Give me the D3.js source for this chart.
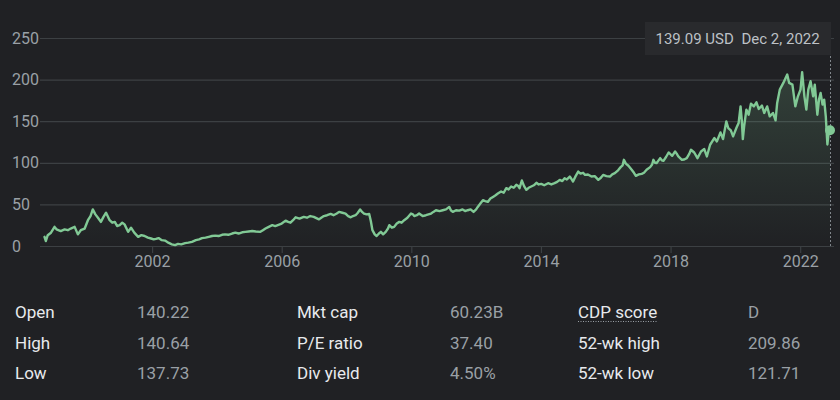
<!DOCTYPE html>
<html>
<head>
<meta charset="utf-8">
<script src="https://cdn.jsdelivr.net/npm/d3@7"></script>
<style>
  html, body { margin: 0; padding: 0; background: #202124; }
  svg { display: block; font-family: Roboto, Arial, sans-serif; }
</style>
</head>
<body>
<svg id="chart" width="840" height="400"></svg>
<script>
// ---------- DATA ----------
const years = [
  1998.68,1998.72,1998.78,1998.88,1998.99,1999.05,1999.18,1999.30,1999.40,1999.49,
  1999.61,1999.71,1999.80,1999.92,2000.02,2000.10,2000.17,2000.25,2000.33,2000.42,
  2000.50,2000.58,2000.69,2000.77,2000.85,2000.92,2001.00,2001.08,2001.15,2001.26,
  2001.35,2001.45,2001.57,2001.67,2001.77,2001.87,2001.97,2002.05,
  2002.12,2002.20,2002.30,2002.40,2002.50,2002.61,2002.71,2002.80,2002.90,2003.02,
  2003.12,2003.23,2003.35,2003.45,2003.54,2003.65,2003.75,2003.85,2003.95,2004.05,
  2004.16,2004.25,2004.35,2004.47,2004.57,2004.67,2004.78,2004.88,2004.98,2005.09,
  2005.20,2005.34,2005.42,2005.50,2005.60,2005.71,
  2005.80,2005.90,2006.00,2006.12,2006.20,2006.27,2006.35,2006.43,2006.55,2006.68,
  2006.78,2006.88,2006.99,2007.07,2007.15,2007.22,2007.30,2007.40,2007.51,2007.60,
  2007.70,2007.77,2007.87,2007.97,2008.05,2008.13,2008.20,2008.28,2008.35,2008.42,
  2008.48,2008.54,2008.62,2008.70,2008.75,2008.80,2008.87,2008.93,2009.00,2009.06,
  2009.13,2009.21,
  2009.28,2009.32,2009.40,2009.47,2009.55,2009.63,2009.70,2009.78,2009.88,2009.99,
  2010.05,2010.09,2010.17,2010.24,2010.35,2010.45,2010.53,2010.61,2010.68,2010.76,
  2010.87,2010.97,2011.07,2011.17,2011.22,2011.28,2011.38,2011.48,2011.58,2011.66,
  2011.74,2011.83,2011.92,2012.00,2012.05,2012.13,2012.21,2012.28,2012.36,2012.44,
  2012.52,2012.60,2012.67,2012.77,2012.85,2012.93,
  2013.00,2013.08,2013.16,2013.24,2013.30,2013.34,2013.41,2013.48,2013.55,2013.62,
  2013.70,2013.78,2013.86,2013.93,2014.01,2014.10,2014.22,2014.32,2014.42,2014.50,
  2014.58,2014.66,2014.73,2014.80,2014.89,2014.95,2014.99,2015.07,2015.15,2015.22,
  2015.30,2015.36,2015.45,2015.56,2015.66,2015.77,2015.85,2015.92,2016.02,2016.13,
  2016.20,2016.28,2016.38,2016.46,
  2016.52,2016.56,2016.62,2016.70,2016.80,2016.87,2016.93,2017.02,2017.11,2017.18,
  2017.26,2017.37,2017.43,2017.47,2017.52,2017.57,2017.68,2017.73,2017.78,2017.86,
  2017.94,2018.05,2018.14,2018.19,2018.24,2018.35,2018.42,2018.50,2018.58,2018.63,
  2018.73,2018.83,2018.94,2019.04,2019.12,2019.22,2019.35,2019.43,2019.54,2019.62,
  2019.72,2019.78,2019.86,2019.93,2020.03,2020.10,2020.16,2020.20,2020.23,2020.27,
  2020.34,2020.41,2020.48,2020.57,2020.65,2020.72,2020.82,2020.89,2020.98,2021.06,
  2021.16,2021.24,2021.29,2021.37,2021.48,2021.55,2021.60,2021.66,2021.76,2021.85,
  2021.93,2022.01,2022.06,2022.13,2022.19,2022.25,2022.32,2022.40,2022.45,2022.53,
  2022.58,2022.63,2022.69,2022.74,2022.79,2022.84,2022.88,2022.92
];
const prices = [
  11,6,13,16,23,20,18,20,19,21,
  23,14,19,21,31,36,44,38,34,29,
  35,40,31,28,29,24,25,28,26,17,
  22,16,11,13,12,10,9,8,
  8.5,9.5,7,6.5,4,2,1,2.5,2,3.5,
  4,5,7,8,9.5,10,11,12,12.5,12,
  13.5,14,13.5,15,16,15,16.5,17,17.5,18,
  17.5,17,19,21,23,25,
  24,25.5,27,30.5,29,28,31,34.5,33,35,
  34,36,35,33.5,32,34,36,37,38.5,37,
  39,41,40,39,36,34.5,36,37,40,44,
  41,39,38,38.5,30,19,14,12,15,17,
  14,17,
  21,25,22,23,27,29,28,31,34,39,
  38,36,37,39,36,37,38,39,41,43,
  42,43,44,47,43,41,43,42.5,44,42,
  43,44,41,44,47,51,55,54,53,57,
  59,61,63,65.5,64,69.5,
  68,71.5,70,73.5,72,69.5,78.7,72,67.5,70,
  71.5,73,76,74,74.7,73,75.5,74,75.5,77,
  79.5,78,81.5,80,83.5,80,77.5,84,89.5,87,
  88,85.5,86,83.5,84,79.5,82,85.5,84,83.5,
  86,87.5,91,94.8,
  97,103.6,99,96.4,91.6,88,84.3,86,86.7,88,
  91.6,94.8,98,103.6,100,99.6,105.6,103,102.4,107,
  112.4,108.4,113.6,111,107.6,103.6,104,105.6,111,115.7,
  112.4,105.6,113.6,116.5,107.6,121.7,129.7,125.7,136.5,128.5,
  149.8,141.8,138.9,131.7,141.8,147.8,167.8,150,128.5,143.7,
  163.9,157.8,171,167.8,172.7,164.7,168.7,159.9,167.8,155.8,
  159.9,151,171.9,187.9,196,202,206,196,194,167.8,
  179.9,187.9,209,179.9,163.9,187.9,198,179.9,194,157.8,
  175.9,184,169.9,175.9,155.8,122,137.7,139.09
];
const yTicks = [0, 50, 100, 150, 200, 250];
const xTicks = [2002, 2006, 2010, 2014, 2018, 2022];
const tooltipPrice = "139.09 USD";
const tooltipDate = "Dec 2, 2022";
const statLabels1 = ["Open", "High", "Low"];
const statValues1 = ["140.22", "140.64", "137.73"];
const statLabels2 = ["Mkt cap", "P/E ratio", "Div yield"];
const statValues2 = ["60.23B", "37.40", "4.50%"];
const statLabels3 = ["CDP score", "52-wk high", "52-wk low"];
const statValues3 = ["D", "209.86", "121.71"];

if (years.length !== prices.length) console.error("length mismatch", years.length, prices.length);
const data = years.map((t, i) => ({ t, v: prices[i] }));

// ---------- DRAW ----------
const svg = d3.select("#chart");
svg.append("rect").attr("width", 840).attr("height", 400).attr("fill", "#202124");

const x = d3.scaleLinear().domain([years[0], years[years.length - 1]]).range([44.5, 830]);
const y = d3.scaleLinear().domain([0, 250]).range([246, 38]);

// y gridlines + labels
const gy = svg.append("g").attr("transform", "translate(40,0)")
  .call(d3.axisLeft(y).tickValues(yTicks).tickSize(-794).tickPadding(0));
gy.select(".domain").remove();
gy.selectAll(".tick line").attr("stroke", "#3c4043").attr("stroke-width", 1.2);
gy.selectAll(".tick text").attr("x", -28).attr("text-anchor", "start")
  .attr("fill", "#9aa0a6").style("font-size", "16px").style("font-family", "Roboto, Arial, sans-serif");

// x axis
const gx = svg.append("g").attr("transform", "translate(0,246)")
  .call(d3.axisBottom(x).tickValues(xTicks).tickFormat(d3.format("d")).tickSize(7).tickPadding(3));
gx.select(".domain").remove();
gx.selectAll(".tick line").attr("stroke", "#3c4043").attr("stroke-width", 1.2);
gx.selectAll(".tick text").attr("fill", "#9aa0a6").style("font-size", "16px")
  .style("font-family", "Roboto, Arial, sans-serif");

// gradient
const defs = svg.append("defs");
const grad = defs.append("linearGradient").attr("id", "areaGrad")
  .attr("gradientUnits", "userSpaceOnUse").attr("x1", 0).attr("x2", 0).attr("y1", 60).attr("y2", 246);
grad.append("stop").attr("offset", "0%").attr("stop-color", "#81c995").attr("stop-opacity", 0.2);
grad.append("stop").attr("offset", "100%").attr("stop-color", "#81c995").attr("stop-opacity", 0);

svg.append("path").datum(data)
  .attr("fill", "url(#areaGrad)")
  .attr("d", d3.area().x(d => x(d.t)).y0(y(0)).y1(d => y(d.v)));

// dotted vertical marker
const last = data[data.length - 1];
svg.append("line")
  .attr("x1", Math.round(x(last.t)) + 0.5).attr("x2", Math.round(x(last.t)) + 0.5)
  .attr("y1", 56).attr("y2", y(0))
  .attr("stroke", "#80868b").attr("stroke-width", 1).attr("stroke-dasharray", "2,2");

svg.append("path").datum(data)
  .attr("fill", "none").attr("stroke", "#81c995").attr("stroke-width", 2.4)
  .attr("stroke-linejoin", "round").attr("stroke-linecap", "round")
  .attr("d", d3.line().x(d => x(d.t)).y(d => y(d.v)));

svg.append("circle").attr("cx", x(last.t)).attr("cy", y(last.v)).attr("r", 5).attr("fill", "#81c995");

// tooltip
svg.append("rect").attr("x", 645).attr("y", 22).attr("width", 186).attr("height", 33).attr("fill", "#292a2d");
svg.append("text").attr("x", 655.5).attr("y", 44).attr("fill", "#bdc1c6").style("font-size", "15px").text(tooltipPrice);
svg.append("text").attr("x", 741.5).attr("y", 44).attr("fill", "#bdc1c6").style("font-size", "15px").text(tooltipDate);

// stats table
const rowY = [318, 348.5, 379];
const cols = [
  { labels: statLabels1, values: statValues1, lx: 15, vx: 137 },
  { labels: statLabels2, values: statValues2, lx: 297, vx: 450 },
  { labels: statLabels3, values: statValues3, lx: 578, vx: 748 }
];
cols.forEach((c, ci) => {
  c.labels.forEach((l, i) => {
    const t = svg.append("text").attr("x", c.lx).attr("y", rowY[i]).attr("fill", "#e8eaed")
      .style("font-size", "17px").text(l);
    if (ci === 2 && i === 0) {
      const w = t.node().getComputedTextLength();
      svg.append("line").attr("x1", c.lx).attr("x2", c.lx + w).attr("y1", rowY[i] + 3.5).attr("y2", rowY[i] + 3.5)
        .attr("stroke", "#9aa0a6").attr("stroke-width", 1).attr("stroke-dasharray", "1,1.5");
    }
  });
  c.values.forEach((v, i) => {
    svg.append("text").attr("x", c.vx).attr("y", rowY[i]).attr("fill", "#9aa0a6")
      .style("font-size", "17px").text(v);
  });
});
</script>
</body>
</html>
